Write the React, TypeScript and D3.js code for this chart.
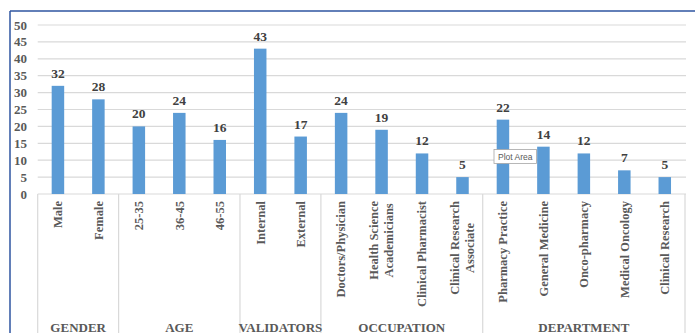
import React, { useEffect, useRef } from "react";
import * as d3 from "d3";

const categories = [
  "Male", "Female",
  "25-35", "36-45", "46-55",
  "Internal", "External",
  "Doctors/Physician", "Health Science\nAcademicians", "Clinical Pharmacist", "Clinical Research\nAssociate",
  "Pharmacy Practice", "General Medicine", "Onco-pharmacy", "Medical Oncology", "Clinical Research",
];
const values = [32, 28, 20, 24, 16, 43, 17, 24, 19, 12, 5, 22, 14, 12, 7, 5];
const groups = ["GENDER", "AGE", "VALIDATORS", "OCCUPATION", "DEPARTMENT"];
const groupSizes = [2, 3, 2, 4, 5];
const yTicks = [0, 5, 10, 15, 20, 25, 30, 35, 40, 45, 50];

const W = 695, H = 333;
const X0 = 37.7, X1 = 685, Y0 = 194, Y1 = 25;

export default function App() {
  const ref = useRef<SVGSVGElement>(null);
  useEffect(() => {
    const svg = d3.select(ref.current);
    svg.selectAll("*").remove();
    const font = "'Liberation Serif', 'Times New Roman', serif";
    const x = d3.scaleBand<number>().domain(d3.range(categories.length)).range([X0, X1]).paddingInner(0).paddingOuter(0);
    const y = d3.scaleLinear().domain([0, 50]).range([Y0, Y1]);

    svg.append("rect").attr("width", W).attr("height", H).attr("fill", "#fff");
    // frame
    svg.append("line").attr("x1", 10).attr("x2", W).attr("y1", 11).attr("y2", 11).attr("stroke", "#2E54A0").attr("stroke-width", 1.5);
    svg.append("line").attr("x1", 10).attr("x2", 10).attr("y1", 11).attr("y2", H).attr("stroke", "#2E54A0").attr("stroke-width", 1.5);

    // gridlines
    svg.append("g").selectAll("line").data(yTicks).join("line")
      .attr("x1", X0).attr("x2", X1 + 1)
      .attr("y1", (d) => y(d)).attr("y2", (d) => y(d))
      .attr("stroke", "#D9D9D9").attr("stroke-width", 1.2);

    // y tick labels
    svg.append("g").selectAll("text").data(yTicks).join("text")
      .attr("x", 27).attr("y", (d) => y(d)).attr("dy", "0.35em")
      .attr("text-anchor", "end").attr("font-family", font).attr("font-weight", "bold")
      .attr("font-size", 13).attr("fill", "#595959").text((d) => d);

    // group separators
    let acc = 0;
    const bounds = [0];
    groupSizes.forEach((s) => { acc += s; bounds.push(acc); });
    const bx = (i: number) => X0 + (X1 - X0) * i / categories.length;
    svg.append("g").selectAll("line").data(bounds).join("line")
      .attr("x1", (d) => bx(d)).attr("x2", (d) => bx(d))
      .attr("y1", Y0).attr("y2", H)
      .attr("stroke", "#D9D9D9").attr("stroke-width", 1.2);

    // bars
    const bw = 12.5;
    svg.append("g").selectAll("rect").data(values).join("rect")
      .attr("x", (_, i) => x(i)! + x.bandwidth() / 2 - bw / 2)
      .attr("width", bw)
      .attr("y", (d) => y(d)).attr("height", (d) => Y0 - y(d))
      .attr("fill", "#5B9BD5");

    // value labels
    svg.append("g").selectAll("text").data(values).join("text")
      .attr("x", (_, i) => x(i)! + x.bandwidth() / 2)
      .attr("y", (d) => y(d) - 8)
      .attr("text-anchor", "middle").attr("font-family", font).attr("font-weight", "bold")
      .attr("font-size", 13.5).attr("fill", "#404040").text((d) => d);

    // category labels
    const top = 201;
    const lh = 15;
    categories.forEach((c, i) => {
      const lines = c.split("\n");
      const cx = x(i)! + x.bandwidth() / 2;
      const g = svg.append("g");
      const texts = lines.map((ln, j) => {
        const lx = cx + (j - (lines.length - 1) / 2) * lh;
        return g.append("text")
          .attr("font-family", font).attr("font-weight", "bold").attr("font-size", 12.5)
          .attr("fill", "#595959").attr("dy", "0.35em")
          .attr("data-lx", lx).text(ln);
      });
      const lens = texts.map((t) => (t.node() as SVGTextElement).getComputedTextLength());
      const maxL = Math.max(...lens);
      const midY = top + maxL / 2;
      texts.forEach((t) => {
        const lx = +t.attr("data-lx");
        t.attr("text-anchor", "middle").attr("transform", `translate(${lx},${midY}) rotate(-90)`);
      });
    });

    // group labels
    groups.forEach((gname, k) => {
      const cx = (bx(bounds[k]) + bx(bounds[k + 1])) / 2;
      svg.append("text").attr("x", cx).attr("y", 331.5)
        .attr("text-anchor", "middle").attr("font-family", font).attr("font-weight", "bold")
        .attr("font-size", 13).attr("fill", "#595959").text(gname);
    });

    // tooltip
    const tip = svg.append("g").attr("transform", "translate(494,149.5)");
    const tr = tip.append("rect").attr("height", 14).attr("fill", "#fff").attr("stroke", "#A6A6A6").attr("stroke-width", 0.8);
    const tt = tip.append("text").attr("x", 4).attr("y", 10.5).attr("font-family", "'Liberation Sans', sans-serif")
      .attr("font-size", 8.5).attr("fill", "#595959").text("Plot Area");
    const tl = (tt.node() as SVGTextElement).getComputedTextLength();
    tr.attr("width", tl + 8);
  }, []);
  return (
    <svg ref={ref} width={W} height={H} style={{ position: "absolute", left: 0, top: 0 }} />
  );
}
